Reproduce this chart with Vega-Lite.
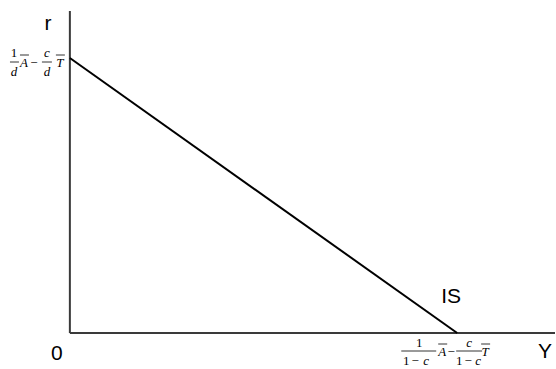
{
  "$schema": "https://vega.github.io/schema/vega-lite/v6.json",
  "width": 556,
  "height": 369,
  "padding": 0,
  "autosize": {"type": "fit", "contains": "padding"},
  "background": "white",
  "config": {"view": {"stroke": null}},
  "datasets": {
    "axes": [
      {"x": 0, "y": 0, "x2": 0, "y2": 322},
      {"x": 0, "y": 0, "x2": 486, "y2": 0}
    ],
    "isCurve": [
      {"Y": 0, "r": 275},
      {"Y": 388, "r": 0}
    ],
    "labels": [
      {"x": -22, "y": 303, "t": "r"},
      {"x": -13, "y": -27, "t": "0"},
      {"x": 476, "y": -25, "t": "Y"},
      {"x": 382, "y": 30, "t": "IS"}
    ],
    "serifUpright": [
      {"x": -56, "y": 280, "t": "1"},
      {"x": -36, "y": 270, "t": "−"},
      {"x": 350, "y": -10, "t": "1"},
      {"x": 337, "y": -28, "t": "1"},
      {"x": 346, "y": -28, "t": "−"},
      {"x": 382, "y": -19, "t": "−"},
      {"x": 390, "y": -28, "t": "1"},
      {"x": 399, "y": -28, "t": "−"}
    ],
    "serifItalic": [
      {"x": -56, "y": 261, "t": "d"},
      {"x": -46, "y": 270, "t": "A"},
      {"x": -23, "y": 280, "t": "c"},
      {"x": -23, "y": 261, "t": "d"},
      {"x": -10, "y": 270, "t": "T"},
      {"x": 357, "y": -28, "t": "c"},
      {"x": 373, "y": -19, "t": "A"},
      {"x": 400, "y": -10, "t": "c"},
      {"x": 409, "y": -28, "t": "c"},
      {"x": 416, "y": -19, "t": "T"}
    ],
    "strokes": [
      {"x": -60, "x2": -51, "y": 271},
      {"x": -50, "x2": -41, "y": 278},
      {"x": -28, "x2": -18, "y": 271},
      {"x": -14, "x2": -5, "y": 278},
      {"x": 332, "x2": 367, "y": -18},
      {"x": 369, "x2": 378, "y": -11},
      {"x": 387, "x2": 413, "y": -18},
      {"x": 412, "x2": 421, "y": -11}
    ]
  },
  "encoding": {
    "x": {"type": "quantitative", "scale": {"domain": [-70, 486], "nice": false, "zero": false}, "axis": null},
    "y": {"type": "quantitative", "scale": {"domain": [-36, 333], "nice": false, "zero": false}, "axis": null}
  },
  "layer": [
    {
      "data": {"name": "axes"},
      "mark": {"type": "rule", "color": "#3a3a3a", "strokeWidth": 2},
      "encoding": {
        "x": {"field": "x", "type": "quantitative"},
        "y": {"field": "y", "type": "quantitative"},
        "x2": {"field": "x2"},
        "y2": {"field": "y2"}
      }
    },
    {
      "data": {"name": "isCurve"},
      "mark": {"type": "line", "color": "black", "strokeWidth": 2},
      "encoding": {
        "x": {"field": "Y", "type": "quantitative"},
        "y": {"field": "r", "type": "quantitative"}
      }
    },
    {
      "data": {"name": "labels"},
      "mark": {"type": "text", "font": "Liberation Sans", "fontSize": 21, "align": "center", "baseline": "alphabetic", "color": "black"},
      "encoding": {
        "x": {"field": "x", "type": "quantitative"},
        "y": {"field": "y", "type": "quantitative"},
        "text": {"field": "t"}
      }
    },
    {
      "data": {"name": "serifUpright"},
      "mark": {"type": "text", "font": "Liberation Serif", "fontSize": 13, "align": "center", "baseline": "middle", "color": "black"},
      "encoding": {
        "x": {"field": "x", "type": "quantitative"},
        "y": {"field": "y", "type": "quantitative"},
        "text": {"field": "t"}
      }
    },
    {
      "data": {"name": "serifItalic"},
      "mark": {"type": "text", "font": "Liberation Serif", "fontStyle": "italic", "fontSize": 13, "align": "center", "baseline": "middle", "color": "black"},
      "encoding": {
        "x": {"field": "x", "type": "quantitative"},
        "y": {"field": "y", "type": "quantitative"},
        "text": {"field": "t"}
      }
    },
    {
      "data": {"name": "strokes"},
      "mark": {"type": "rule", "color": "black", "strokeWidth": 0.8},
      "encoding": {
        "x": {"field": "x", "type": "quantitative"},
        "x2": {"field": "x2"},
        "y": {"field": "y", "type": "quantitative"}
      }
    }
  ]
}
